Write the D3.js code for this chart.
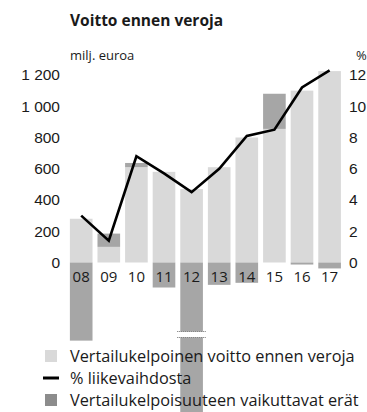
<!DOCTYPE html>
<html>
<head>
<meta charset="utf-8">
<script src="https://cdn.jsdelivr.net/npm/d3@7"></script>
<style>
  html, body { margin: 0; padding: 0; background: #fff; }
  svg { display: block; font-family: "Open Sans", "Noto Sans", sans-serif; }
</style>
</head>
<body>
<svg id="chart" width="367" height="412"></svg>
<script>
// Voitto ennen veroja, 2008–2017
const years = ["08", "09", "10", "11", "12", "13", "14", "15", "16", "17"];
// Vertailukelpoinen voitto ennen veroja, milj. euroa
const comparableProfit = [280, 100, 610, 580, 470, 610, 800, 855, 1100, 1225];
// Vertailukelpoisuuteen vaikuttavat erät, milj. euroa
const comparabilityItems = [-500, 85, 27, -160, -1000, -143, -130, 225, -13, -38];
// % liikevaihdosta
const pctOfSales = [3.0, 1.4, 6.8, 5.7, 4.5, 6.0, 8.1, 8.5, 11.2, 12.3];

const leftTicks = [0, 200, 400, 600, 800, 1000, 1200];
const rightTicks = [0, 2, 4, 6, 8, 10, 12];

const legendLabels = [
  "Vertailukelpoinen voitto ennen veroja",
  "% liikevaihdosta",
  "Vertailukelpoisuuteen vaikuttavat erät"
];

const LIGHT = "#d9d9d9";
const DARK = "#a6a6a6";
const DARK_KEY = "#8c8c8c";
const TEXT = "#1a1a1a";

const svg = d3.select("#chart");

const x = d3.scaleBand().domain(years).range([67.4, 343.4]).paddingInner(0.18).paddingOuter(0.09);
const y = d3.scaleLinear().domain([0, 1200]).range([262.5, 75]);
const yPct = d3.scaleLinear().domain([0, 12]).range([262.5, 75]);

const fmt = d => d3.format(",")(d).replace(/,/g, " ");

// Title and unit labels
svg.append("text").attr("x", 70).attr("y", 26)
  .attr("font-size", 15.5).attr("font-weight", 700).attr("fill", TEXT)
  .text("Voitto ennen veroja");
svg.append("text").attr("x", 70).attr("y", 60)
  .attr("font-size", 13).attr("fill", TEXT).text("milj. euroa");
svg.append("text").attr("x", 356).attr("y", 60)
  .attr("font-size", 13).attr("fill", TEXT).text("%");

// Left axis (values only, no domain line)
const leftAxis = svg.append("g").attr("transform", "translate(60,0)")
  .call(d3.axisLeft(y).tickValues(leftTicks).tickFormat(fmt).tickSize(0).tickPadding(0));
leftAxis.select(".domain").remove();
leftAxis.selectAll("text").attr("font-size", 15.5).attr("fill", TEXT).attr("font-family", null);

// Right axis
const rightAxis = svg.append("g").attr("transform", "translate(349,0)")
  .call(d3.axisRight(yPct).tickValues(rightTicks).tickSize(0).tickPadding(0));
rightAxis.select(".domain").remove();
rightAxis.selectAll("text").attr("font-size", 15.5).attr("fill", TEXT).attr("font-family", null);

// Comparable profit bars
svg.append("g").selectAll("rect").data(years).join("rect")
  .attr("x", d => x(d))
  .attr("width", x.bandwidth())
  .attr("y", (d, i) => y(comparableProfit[i]))
  .attr("height", (d, i) => y(0) - y(comparableProfit[i]))
  .attr("fill", LIGHT);

// Items affecting comparability: stacked on top when positive, below zero when negative
svg.append("g").selectAll("rect").data(years).join("rect")
  .attr("x", d => x(d))
  .attr("width", x.bandwidth())
  .attr("y", (d, i) => {
    const v = comparabilityItems[i];
    return v >= 0 ? y(comparableProfit[i] + v) : y(0);
  })
  .attr("height", (d, i) => Math.abs(y(comparabilityItems[i]) - y(0)))
  .attr("fill", DARK);

// Axis break on the 2012 bar
const bx = x("12");
const breakG = svg.append("g");
breakG.append("rect").attr("x", bx - 3).attr("width", x.bandwidth() + 6)
  .attr("y", 331.5).attr("height", 6).attr("fill", "#fff");
[331.5, 337.5].forEach(yy => {
  breakG.append("line").attr("x1", bx - 3).attr("x2", bx + x.bandwidth() + 3)
    .attr("y1", yy).attr("y2", yy)
    .attr("stroke", "#666").attr("stroke-width", 1).attr("stroke-dasharray", "1,1");
});

// Year labels
svg.append("g").selectAll("text").data(years).join("text")
  .attr("x", d => x(d) + x.bandwidth() / 2)
  .attr("y", 282)
  .attr("text-anchor", "middle")
  .attr("font-size", 15).attr("fill", TEXT)
  .text(d => d);

// Percentage line
const line = d3.line()
  .x((d, i) => x(years[i]) + x.bandwidth() / 2)
  .y(d => yPct(d));
svg.append("path").datum(pctOfSales)
  .attr("d", line).attr("fill", "none")
  .attr("stroke", "#000").attr("stroke-width", 2.6).attr("stroke-linejoin", "miter");

// Legend
const legendY = [356, 378, 400];
const lg = svg.append("g");
lg.append("rect").attr("x", 45).attr("y", legendY[0] - 6).attr("width", 12).attr("height", 12).attr("fill", LIGHT);
lg.append("line").attr("x1", 43).attr("x2", 59).attr("y1", legendY[1]).attr("y2", legendY[1])
  .attr("stroke", "#000").attr("stroke-width", 3);
lg.append("rect").attr("x", 45).attr("y", legendY[2] - 6).attr("width", 12).attr("height", 12).attr("fill", DARK_KEY);
lg.selectAll("text").data(legendLabels).join("text")
  .attr("x", 70).attr("y", (d, i) => legendY[i] + 5.5)
  .attr("font-size", 16.3).attr("fill", TEXT)
  .text(d => d);
</script>
</body>
</html>
